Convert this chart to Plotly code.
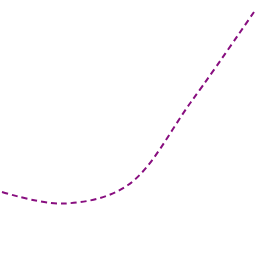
import plotly.graph_objects as go

x_vals = [0, 1, 2, 3, 4]
y_vals = [64, 52.5, 71, 154, 244]

fig = go.Figure()
fig.add_trace(go.Scatter(x=x_vals, y=y_vals, mode="lines",
                         line=dict(color="#880e7f", width=2, dash="6px,4px", shape="spline", smoothing=1.0)))
fig.update_layout(width=256, height=256, margin=dict(l=0, r=0, t=0, b=0),
                  paper_bgcolor="white", plot_bgcolor="white", showlegend=False,
                  xaxis=dict(visible=False, range=[-0.0317, 4.0317]),
                  yaxis=dict(visible=False, range=[0, 256]))
fig.write_html("out.html")
